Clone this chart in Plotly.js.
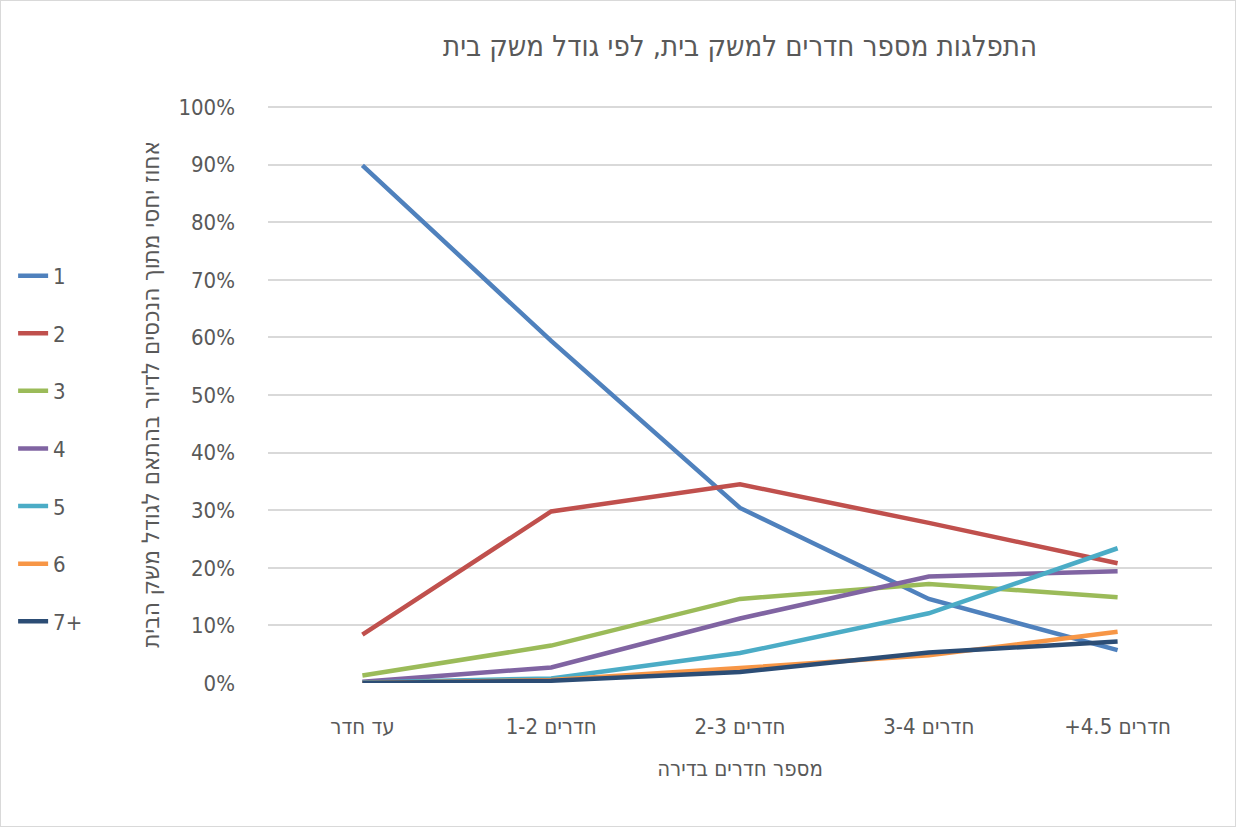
<!DOCTYPE html>
<html>
<head>
<meta charset="utf-8">
<script src="https://cdn.plot.ly/plotly-3.0.1.min.js"></script>
<style>
html,body{margin:0;padding:0;background:#fff;}
#wrap{position:relative;width:1236px;height:827px;}
#chart{width:1236px;height:827px;}
#frame{position:absolute;left:0;top:0;width:1236px;height:827px;box-sizing:border-box;border:1px solid #d9d9d9;pointer-events:none;}
</style>
</head>
<body>
<div id="wrap"><div id="chart"></div><div id="frame"></div></div>
<script>
const categories = ["עד חדר", "1-2 חדרים", "2-3 חדרים", "3-4 חדרים", "+4.5 חדרים"];
const seriesNames = ["1", "2", "3", "4", "5", "6", "7+"];
const s1 = [89.9, 59.4, 30.4, 14.6, 5.7];
const s2 = [8.4, 29.8, 34.5, 27.8, 20.8];
const s3 = [1.3, 6.5, 14.6, 17.2, 14.9];
const s4 = [0.2, 2.7, 11.2, 18.5, 19.4];
const s5 = [0.1, 0.8, 5.2, 12.1, 23.4];
const s6 = [0.0, 0.5, 2.6, 4.8, 8.9];
const s7 = [0.0, 0.4, 1.9, 5.3, 7.2];
const seriesValues = [s1, s2, s3, s4, s5, s6, s7];
const colors = ["#4F81BD", "#C0504D", "#9BBB59", "#8064A2", "#4BACC6", "#F79646", "#2C4D75"];
const yTickVals = [0,10,20,30,40,50,60,70,80,90,100];
const yTickText = yTickVals.map(v => v + "%");

const FONT = "'DejaVu Sans Condensed', 'Liberation Sans Narrow', 'Arial Narrow', sans-serif";
const GRAY = "#595959";

const traces = seriesValues.map((vals, i) => ({
  type: "scatter",
  mode: "lines",
  x: categories,
  y: vals,
  name: seriesNames[i],
  legendgroup: "g" + i,
  line: {color: colors[i], width: 4.5},
  hoverinfo: "skip"
}));

const layout = {
  width: 1236,
  height: 827,
  paper_bgcolor: "#ffffff",
  plot_bgcolor: "#ffffff",
  margin: {l: 268, r: 24, t: 106, b: 144},
  font: {family: FONT, color: GRAY, size: 22},
  title: {
    text: "התפלגות מספר חדרים למשק בית, לפי גודל משק בית",
    font: {family: FONT, size: 29, color: GRAY},
    x: 0.5, xref: "paper", xanchor: "center",
    y: 0.945, yref: "container", yanchor: "middle"
  },
  xaxis: {
    type: "category",
    range: [-0.5, 4.5],
    showgrid: false,
    zeroline: false,
    showline: false,
    ticks: "",
    tickfont: {family: FONT, size: 22, color: GRAY},
    ticklabelstandoff: 28,
    title: {text: "מספר חדרים בדירה", font: {family: FONT, size: 22, color: GRAY}, standoff: 22},
    fixedrange: true
  },
  yaxis: {
    range: [0, 100.2],
    tickvals: yTickVals,
    ticktext: yTickText,
    showgrid: true,
    gridcolor: "#D9D9D9",
    gridwidth: 2,
    zeroline: false,
    showline: false,
    ticks: "",
    tickfont: {family: FONT, size: 22, color: GRAY},
    ticklabelstandoff: 32,
    title: {text: "אחוז יחסי מתוך הנכסים לדיור בהתאם לגודל משק הבית", font: {family: FONT, size: 24, color: GRAY}, standoff: 12},
    fixedrange: true
  },
  showlegend: true,
  legend: {
    x: -0.27, xanchor: "left",
    y: 0.742, yanchor: "top",
    font: {family: FONT, size: 22, color: GRAY},
    tracegroupgap: 26,
    itemwidth: 30,
    bgcolor: "rgba(0,0,0,0)"
  }
};

Plotly.newPlot("chart", traces, layout, {displayModeBar: false, staticPlot: true});
</script>
</body>
</html>
